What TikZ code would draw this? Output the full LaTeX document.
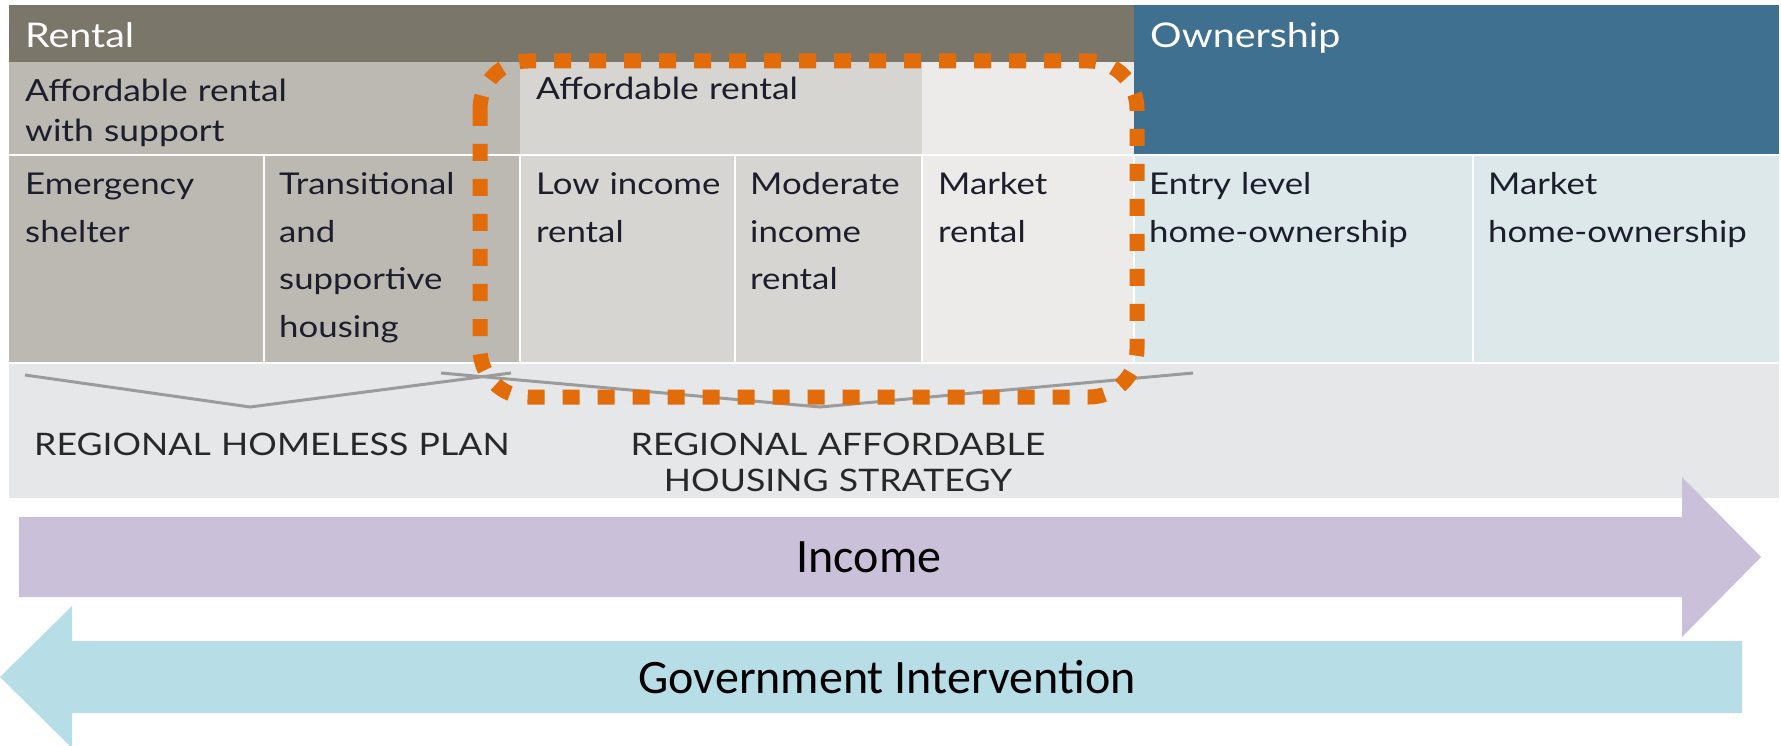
\documentclass[tikz,border=0pt]{standalone}
\usepackage{fontspec}
\setmainfont{Lato}[FakeStretch=1.16]
\newfontfamily\bandfont{Lato}[FakeStretch=1.15]
\newfontfamily\arrowfont{Carlito}
\definecolor{rentalhead}{RGB}{122,118,106}
\definecolor{ownhead}{RGB}{64,112,144}
\definecolor{supportfill}{RGB}{188,185,178}
\definecolor{affordfill}{RGB}{214,213,209}
\definecolor{marketfill}{RGB}{236,235,233}
\definecolor{ownfill}{RGB}{221,232,234}
\definecolor{bandfill}{RGB}{230,231,232}
\definecolor{celltext}{RGB}{28,30,44}
\definecolor{bandtext}{RGB}{40,40,40}
\definecolor{planline}{RGB}{155,155,155}
\definecolor{focus}{RGB}{227,108,10}
\definecolor{incomefill}{RGB}{203,192,218}
\definecolor{govfill}{RGB}{183,221,231}
\begin{document}
\begin{tikzpicture}[x=1pt,y=-1pt,
  headtext/.style={anchor=base west,inner sep=0pt,text=white,font=\fontsize{34}{40}\selectfont},
  celltxt/.style={anchor=base west,inner sep=0pt,text=celltext,align=left,text width=280pt,font=\fontsize{30}{47.5}\selectfont},
  subhead/.style={celltxt,font=\fontsize{30.5}{40}\selectfont},
  bandlabel/.style={anchor=base,inner sep=0pt,text=bandtext,align=center,text width=520pt,font=\bandfont\fontsize{31}{36}\selectfont},
  sep/.style={white,line width=2.5pt},
  planstroke/.style={planline,line width=3pt},
  arrowtxt/.style={inner sep=0pt,text=black,font=\arrowfont\fontsize{48}{56}\selectfont}]
\useasboundingbox (0,0) rectangle (1781,746);
\fill[white] (0,0) rectangle (1781,746);

% header band
\fill[rentalhead] (9,5) rectangle (1134,62);
\fill[ownhead] (1134,5) rectangle (1779,155);
% second row
\fill[supportfill] (9,62) rectangle (520,155);
\fill[affordfill] (520,62) rectangle (922,155);
\fill[marketfill] (922,62) rectangle (1134,155);
% third row
\fill[supportfill] (9,155) rectangle (520,363);
\fill[affordfill] (520,155) rectangle (922,363);
\fill[marketfill] (922,155) rectangle (1134,363);
\fill[ownfill] (1134,155) rectangle (1779,363);
% strategy band
\fill[bandfill] (9,363) rectangle (1779,498);

% cell separators
\draw[sep] (9,155) -- (1779,155);
\draw[sep] (9,363) -- (1779,363);
\foreach \x in {264,520,735,922,1134,1473}
  \draw[sep] (\x,155) -- (\x,363);

% titles
\node[headtext] (rental) at (25,48) {Rental};
\node[headtext] (ownership) at (1150,48) {Ownership};
\node[subhead] (withsupport) at (25,102) {Affordable rental\\with support};
\node[subhead] (affordable) at (536,100) {Affordable rental};

% housing types
\node[celltxt] (emergency) at (25,195) {Emergency\\shelter};
\node[celltxt] (transitional) at (279,195) {Transitional\\and\\supportive\\housing};
\node[celltxt] (lowincome) at (536,195) {Low income\\rental};
\node[celltxt] (moderate) at (750,195) {Moderate\\income\\rental};
\node[celltxt] (marketrental) at (938,195) {Market\\rental};
\node[celltxt] (entry) at (1149,195) {Entry level\\home-ownership};
\node[celltxt] (markethome) at (1488,195) {Market\\home-ownership};

% plan brackets
\coordinate (hpa) at (25,375);
\coordinate (hpb) at (250,407);
\coordinate (hpc) at (511,373);
\coordinate (ahsa) at (441,373);
\coordinate (ahsb) at (820,407);
\coordinate (ahsc) at (1193,373);
\draw[planstroke] (hpa) -- (hpb) -- (hpc);
\draw[planstroke] (ahsa) -- (ahsb) -- (ahsc);

\node[bandlabel,anchor=base west,align=left] (homeless) at (34,455) {REGIONAL HOMELESS PLAN};
\node[bandlabel] (strategy) at (838,455) {REGIONAL AFFORDABLE\\HOUSING STRATEGY};

% highlighted range
\draw[focus,line width=15pt,dash pattern=on 17pt off 18pt,rounded corners=48pt]
  (480,61) rectangle (1137,397);

% income arrow
\fill[incomefill] (19,517) -- (1682,517) -- (1682,477) -- (1761,557)
  -- (1682,637) -- (1682,597) -- (19,597) -- cycle;
\node[arrowtxt] (income) at (869,557) {Income};

% government intervention arrow
\fill[govfill] (1742,641) -- (72,641) -- (72,606) -- (0,677)
  -- (72,748) -- (72,713) -- (1742,713) -- cycle;
\node[arrowtxt] (gov) at (887,677) {Government Intervention};
\end{tikzpicture}
\end{document}
